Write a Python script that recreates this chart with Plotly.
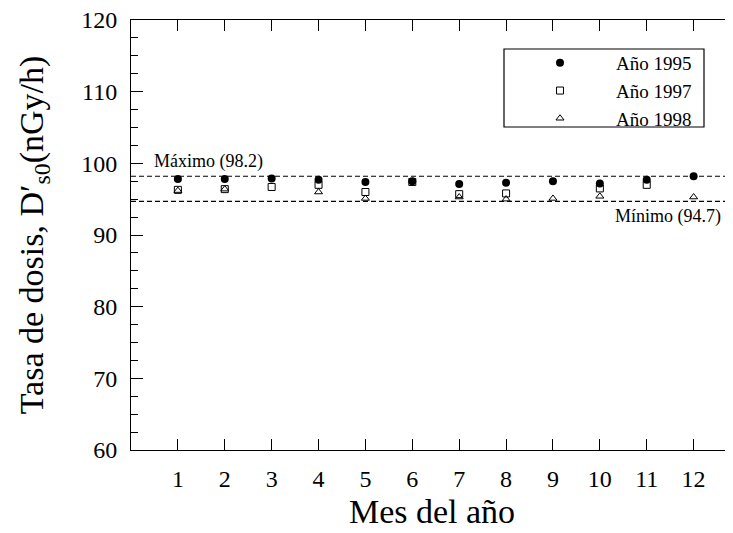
import plotly.graph_objects as go

months = list(range(1, 13))
# Año 1995 (filled circles)
y1995 = [97.8, 97.8, 97.9, 97.7, 97.4, 97.5, 97.1, 97.3, 97.5, 97.2, 97.7, 98.2]
# Año 1997 (open squares); None = not shown
y1997 = [96.3, 96.4, 96.7, 97.0, 96.0, 97.4, 95.7, 95.8, None, 96.5, 97.0, None]
# Año 1998 (open triangles)
y1998 = [96.2, 96.4, None, 96.0, 95.1, None, 95.3, 95.0, 95.1, 95.4, None, 95.3]

max_val = 98.2
min_val = 94.7
max_label = "Máximo (98.2)"
min_label = "Mínimo (94.7)"
series_names = ["Año 1995", "Año 1997", "Año 1998"]

FONT = "Liberation Serif"

# page body has an 8px margin: figure is 725x525 so it ends at the window edge
W, H = 725, 525
ML, MT, MB, MR = 123, 12, 83, 0
plot_w = W - ML - MR
plot_h = H - MT - MB
OX, OY = 8 + ML, 8 + MT  # page pixel of plot origin (left, top)


def px_x(p):
    return (p - OX) / plot_w


def px_y(p):
    return 1 - (p - OY) / plot_h


fig = go.Figure()
fig.add_trace(go.Scatter(x=months, y=y1995, mode="markers", name=series_names[0],
                         legendgroup="a",
                         marker=dict(symbol="circle", size=8, color="black")))
fig.add_trace(go.Scatter(x=months, y=y1997, mode="markers", name=series_names[1],
                         legendgroup="b",
                         marker=dict(symbol="square-open", size=7, color="black",
                                     line=dict(width=1, color="black"))))
fig.add_trace(go.Scatter(x=months, y=y1998, mode="markers", name=series_names[2],
                         legendgroup="c",
                         marker=dict(symbol="triangle-up-open", size=7, color="black",
                                     line=dict(width=1, color="black"))))

for v in (max_val, min_val):
    fig.add_shape(type="line", xref="paper", x0=0, x1=1, yref="y", y0=v, y1=v,
                  line=dict(color="black", width=1.2, dash="5px,3px"))

# legend frame
fig.add_shape(type="rect", xref="paper", yref="paper",
              x0=px_x(504), x1=px_x(704), y0=px_y(127), y1=px_y(49),
              line=dict(color="black", width=1.2), fillcolor="rgba(0,0,0,0)")

fig.add_annotation(x=0.45, y=max_val, xref="x", yref="y", text=max_label,
                   showarrow=False, xanchor="left", yanchor="bottom", yshift=2,
                   font=dict(family=FONT, size=18, color="black"))
fig.add_annotation(x=12.62, y=min_val, xref="x", yref="y", text=min_label,
                   showarrow=False, xanchor="right", yanchor="top", yshift=-3,
                   font=dict(family=FONT, size=18, color="black"))

fig.update_layout(
    width=W, height=H,
    margin=dict(l=ML, r=MR, t=MT, b=MB),
    paper_bgcolor="white", plot_bgcolor="white",
    font=dict(family=FONT, color="black"),
    showlegend=True,
    legend=dict(x=px_x(504), y=px_y(44), xanchor="left", yanchor="top",
                borderwidth=0, bgcolor="rgba(0,0,0,0)",
                font=dict(family=FONT, size=19, color="black"),
                itemwidth=102, traceorder="grouped", tracegroupgap=0),
    xaxis=dict(range=[0, 12.84], tickmode="array", tickvals=months,
               ticktext=[str(m) for m in months],
               ticks="inside", ticklen=11, tickwidth=1, tickcolor="black",
               showline=True, linecolor="black", linewidth=1, mirror="ticks",
               showgrid=False, zeroline=False,
               tickfont=dict(family=FONT, size=24, color="black"),
               ticklabelstandoff=7, ticklabeloverflow="allow",
               title=dict(text="Mes del año", font=dict(family=FONT, size=34, color="black"),
                          standoff=8)),
    yaxis=dict(range=[60, 120], tickmode="linear", tick0=60, dtick=10,
               ticks="inside", ticklen=12, tickwidth=1, tickcolor="black",
               minor=dict(ticks="inside", ticklen=7, tickwidth=1, tickcolor="black", dtick=2.5,
                          showgrid=False),
               showline=True, linecolor="black", linewidth=1, mirror=False,
               showgrid=False, zeroline=False,
               tickfont=dict(family=FONT, size=24, color="black"),
               ticklabelstandoff=8, ticklabeloverflow="allow",
               title=dict(text="Tasa de dosis, D′<sub>s0</sub>(nGy/h)",
                          font=dict(family=FONT, size=34, color="#000000"), standoff=27)),
)

fig.write_html("out.html")
